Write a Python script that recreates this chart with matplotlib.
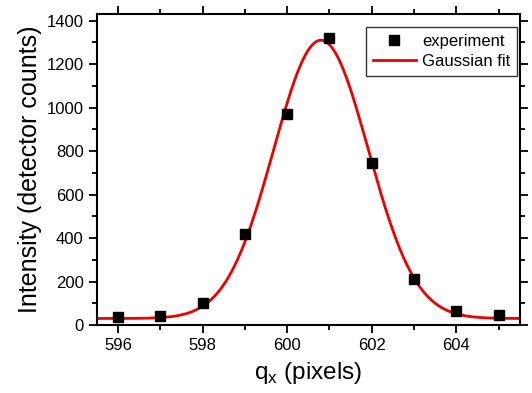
import numpy as np
import matplotlib
matplotlib.use('Agg')
import matplotlib.pyplot as plt
from matplotlib.ticker import MultipleLocator

plt.rcParams['font.family'] = ['Liberation Sans', 'DejaVu Sans']

# measured points
qx = [596, 597, 598, 599, 600, 601, 602, 603, 604, 605]
counts = [35, 40, 100, 420, 970, 1320, 745, 210, 65, 45]

# Gaussian fit parameters: offset, amplitude, centre, sigma
y0 = 30.
amp = 1280.
xc = 600.8
sigma = 1.12

xfit = np.linspace(595.5, 605.5, 400)
yfit = y0 + amp*np.exp(-(xfit - xc)**2/(2*sigma**2))

fig = plt.figure(figsize=(5.32, 3.93), dpi=100)
ax = fig.add_axes([0.182, 0.173, 0.795, 0.791])

ax.plot(xfit, yfit, color='#ee0000', lw=2.0, label='Gaussian fit', zorder=2)
ax.plot(qx, counts, 's', color='black', ms=7.5, label='experiment', zorder=3)

ax.set_xlim(595.5, 605.5)
ax.set_ylim(0, 1430)
ax.xaxis.set_major_locator(MultipleLocator(2))
ax.xaxis.set_minor_locator(MultipleLocator(1))
ax.yaxis.set_major_locator(MultipleLocator(200))
ax.yaxis.set_minor_locator(MultipleLocator(100))

for s in ax.spines.values():
    s.set_linewidth(1.5)
ax.tick_params(which='both', direction='out', top=True, right=True, width=1.3, labelsize=12)
ax.tick_params(which='major', length=6)
ax.tick_params(which='minor', length=3.5)

ax.set_xlabel('q$_\\mathregular{x}$ (pixels)', fontsize=17.5, labelpad=5)
ax.set_ylabel('Intensity (detector counts)', fontsize=18, labelpad=3)

h, l = ax.get_legend_handles_labels()
leg = ax.legend(h[::-1], l[::-1], loc='upper right', fontsize=12, frameon=True, fancybox=False,
                edgecolor='black', borderpad=0.4, handlelength=2.6, handletextpad=0.35,
                labelspacing=0.3, borderaxespad=0, bbox_to_anchor=(0.993, 0.958))
leg.get_frame().set_linewidth(1.0)

fig.savefig('out.png', dpi=100)
